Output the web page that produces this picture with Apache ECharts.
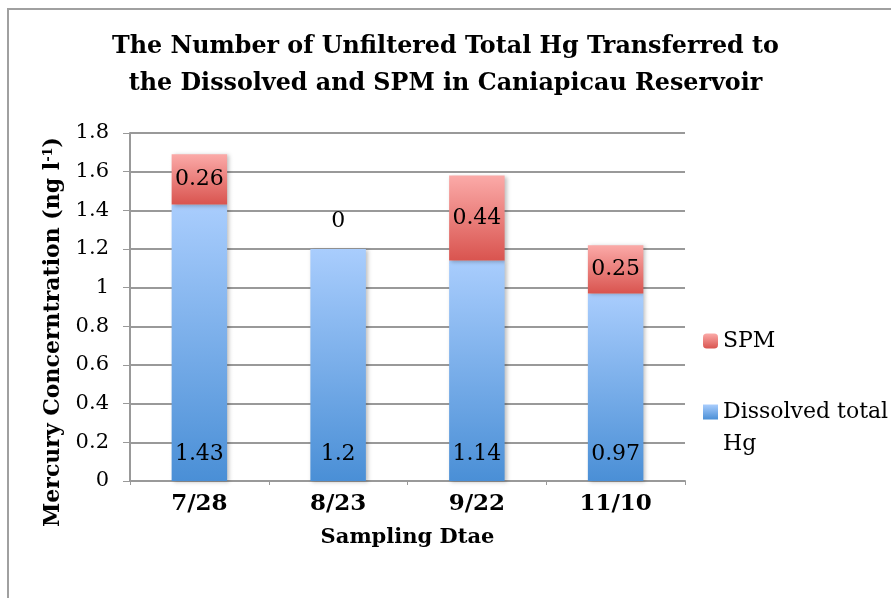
<!DOCTYPE html>
<html>
<head>
<meta charset="utf-8">
<script src="https://cdn.jsdelivr.net/npm/echarts@6/dist/echarts.min.js"></script>
<style>
  html, body { margin: 0; padding: 0; background: #fff; }
  #chart { width: 891px; height: 598px; }
</style>
</head>
<body>
<div id="chart"></div>
<script>
// sampling dates on the x axis
var categories = ["7/28", "8/23", "9/22", "11/10"];
// stacked values (ng l-1)
var dissolved = [1.43, 1.2, 1.14, 0.97];
var spm = [0.26, 0, 0.44, 0.25];
var yTicks = [0, 0.2, 0.4, 0.6, 0.8, 1, 1.2, 1.4, 1.6, 1.8];

var serif = "DejaVu Serif";
var titleLine1 = "The Number of Unfiltered Total Hg Transferred to";
var titleLine2 = "the Dissolved and SPM in Caniapicau Reservoir";

// fit the title to the width it has in the picture
var ctx = document.createElement("canvas").getContext("2d");
ctx.font = "bold 100px " + serif;
var titleSize = Math.round(100 * 668 / ctx.measureText(titleLine1).width * 10) / 10;

var blueFill = new echarts.graphic.LinearGradient(0, 0, 0, 1, [
  { offset: 0, color: "#a9cdfd" },
  { offset: 1, color: "#4a8fd6" }
]);
var redFill = new echarts.graphic.LinearGradient(0, 0, 0, 1, [
  { offset: 0, color: "#fbaaa8" },
  { offset: 1, color: "#d9544f" }
]);
// legend square sits on the first of two text lines: the path is 15 wide,
// 47 tall, with the square in its top part, so the gradient is squeezed there
var blueLegendFill = new echarts.graphic.LinearGradient(0, 0, 0, 1, [
  { offset: 0, color: "#a9cdfd" },
  { offset: 0.32, color: "#4a8fd6" },
  { offset: 1, color: "#4a8fd6" }
]);

var myChart = echarts.init(document.getElementById("chart"));

var option = {
  animation: false,
  backgroundColor: "#fff",
  graphic: [
    {
      type: "rect",
      shape: { x: 8, y: 9, width: 1000, height: 1000 },
      style: { fill: "none", stroke: "#a0a0a0", lineWidth: 2 },
      silent: true
    }
  ],
  title: {
    text: titleLine1 + "\n" + titleLine2,
    left: "center",
    top: 23,
    textStyle: {
      fontFamily: serif,
      fontWeight: "bold",
      fontSize: titleSize,
      lineHeight: 37,
      color: "#000"
    }
  },
  grid: {
    left: 130,
    right: 206,
    top: 133,
    bottom: 117
  },
  legend: [
    {
      orient: "vertical",
      left: 698,
      top: 325,
      itemWidth: 15,
      itemHeight: 15,
      data: ["SPM"],
      textStyle: { fontFamily: serif, fontSize: 22, color: "#000" }
    },
    {
      orient: "vertical",
      left: 698,
      top: 391,
      itemWidth: 15,
      itemHeight: 47,
      data: [{
        name: "Dissolved total Hg",
        icon: "path://M0,0h15v15h-15z M0,46.9h0.1v0.1h-0.1z",
        itemStyle: { color: blueLegendFill }
      }],
      formatter: function () { return "Dissolved total\nHg"; },
      textStyle: {
        fontFamily: serif, fontSize: 22, lineHeight: 32, color: "#000"
      }
    }
  ],
  xAxis: {
    type: "category",
    data: categories,
    name: "Sampling Dtae",
    nameLocation: "middle",
    nameGap: 46,
    nameTextStyle: { fontFamily: serif, fontWeight: "bold", fontSize: 21, color: "#000" },
    axisLine: { lineStyle: { color: "#999", width: 2 } },
    axisTick: { show: true, length: 4, lineStyle: { color: "#999" } },
    axisLabel: { fontFamily: serif, fontWeight: "bold", fontSize: 23, color: "#000", margin: 12 }
  },
  yAxis: {
    type: "value",
    min: 0,
    max: 1.8,
    interval: 0.2,
    name: "{n|Mercury Concerntration (ng l}{s|-1}{n|)}",
    nameLocation: "middle",
    nameGap: 66,
    nameTextStyle: {
      padding: [0, 50, 0, 0],
      rich: {
        n: { fontFamily: serif, fontWeight: "bold", fontSize: 22, color: "#000" },
        s: { fontFamily: serif, fontWeight: "bold", fontSize: 13, color: "#000", verticalAlign: "top", padding: [0, 0, 9, 0] }
      }
    },
    axisLine: { show: true, lineStyle: { color: "#999", width: 2 } },
    axisTick: { show: true, length: 7, lineStyle: { color: "#999" } },
    splitLine: { lineStyle: { color: "#999", width: 2 } },
    axisLabel: {
      fontFamily: serif,
      fontSize: 21,
      color: "#000",
      margin: 21,
      formatter: function (v) {
        var t = yTicks.find(function (x) { return Math.abs(x - v) < 1e-9; });
        return t === undefined ? "" : String(t);
      }
    }
  },
  series: [
    {
      name: "Dissolved total Hg",
      type: "bar",
      stack: "hg",
      barWidth: "40%",
      data: dissolved,
      itemStyle: {
        color: blueFill,
        shadowColor: "rgba(0,0,0,0.25)",
        shadowBlur: 4,
        shadowOffsetX: 2,
        shadowOffsetY: 1
      },
      label: {
        show: true,
        position: "insideBottom",
        distance: 16,
        fontFamily: serif,
        fontSize: 22,
        color: "#000"
      }
    },
    {
      name: "SPM",
      type: "bar",
      stack: "hg",
      barWidth: "40%",
      data: spm.map(function (v) {
        if (v === 0) {
          return { value: v, label: { position: "top", distance: 17 } };
        }
        return v;
      }),
      itemStyle: {
        color: redFill,
        shadowColor: "rgba(0,0,0,0.25)",
        shadowBlur: 4,
        shadowOffsetX: 2,
        shadowOffsetY: 1
      },
      label: {
        show: true,
        position: "inside",
        fontFamily: serif,
        fontSize: 22,
        color: "#000"
      }
    }
  ]
};

myChart.setOption(option);
window.onresize = myChart.resize;
</script>
</body>
</html>
